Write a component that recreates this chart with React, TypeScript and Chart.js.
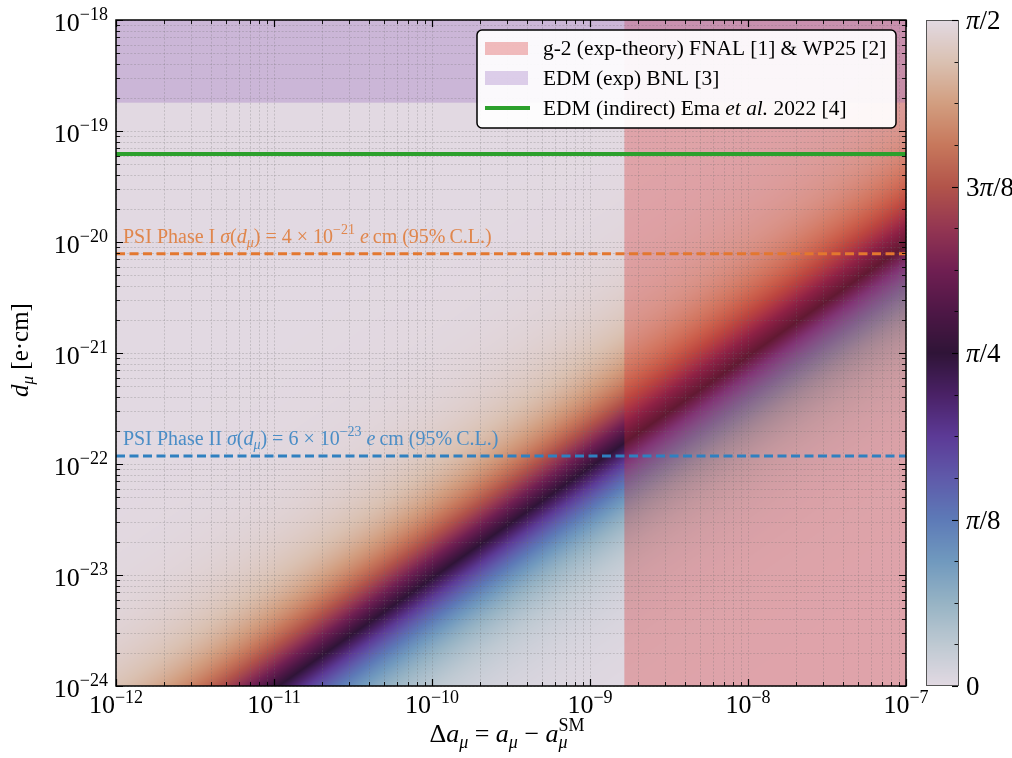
import { useEffect, useRef } from "react";
import { Chart, registerables } from "chart.js";

Chart.register(...registerables);

// ---- axis ranges & ticks ----
const X_MIN = 1e-12;
const X_MAX = 1e-7;
const Y_MIN = 1e-24;
const Y_MAX = 1e-18;
const xTickExponents = [-12, -11, -10, -9, -8, -7];
const yTickExponents = [-24, -23, -22, -21, -20, -19, -18];
const phaseTickValues = [0, Math.PI / 8, Math.PI / 4, (3 * Math.PI) / 8, Math.PI / 2];
const phaseTickLabels = ["0", "π/8", "π/4", "3π/8", "π/2"];

// ---- limits ----
const g2LowerBound = 1.65e-9; // Δa_μ above which the g-2 band is shaded
const bnlEdmLimit = 1.8e-19; // e·cm
const emaEdmLimit = 6.2e-20; // e·cm
const psiPhase1Limit = 7.84e-21; // 95% C.L. of σ = 4e-21
const psiPhase2Limit = 1.18e-22; // 95% C.L. of σ = 6e-23

// d_μ = (e ħ / 2 m_μ c) · Δa_μ · tan φ   (e·cm)
const EDM_PER_DELTA_A = 9.34e-14;

const legendLabels = [
  "g-2 (exp-theory) FNAL [1] & WP25 [2]",
  "EDM (exp) BNL [3]",
  "EDM (indirect) Ema ",
];

// twilight colormap stops (0 → 1)
const twilightStops: number[][] = [
  [226, 217, 226],
  [190, 201, 210],
  [150, 179, 196],
  [112, 153, 190],
  [93, 122, 183],
  [95, 90, 170],
  [92, 58, 150],
  [74, 33, 102],
  [47, 20, 55],
  [78, 23, 70],
  [112, 31, 82],
  [148, 54, 82],
  [178, 84, 74],
  [199, 120, 92],
  [210, 158, 128],
  [218, 193, 178],
  [226, 217, 226],
];

function cmap(t: number): number[] {
  const tt = Math.max(0, Math.min(1, t)) * (twilightStops.length - 1);
  const i = Math.min(twilightStops.length - 2, Math.floor(tt));
  const f = tt - i;
  const a = twilightStops[i];
  const b = twilightStops[i + 1];
  return [a[0] + (b[0] - a[0]) * f, a[1] + (b[1] - a[1]) * f, a[2] + (b[2] - a[2]) * f];
}

const FONT = '"Liberation Serif", "Times New Roman", serif';
const fnt = (size: number, italic?: boolean) => `${italic ? "italic " : ""}${size}px ${FONT}`;

type Seg = { t: string; size: number; it?: boolean; dy?: number; stack?: boolean };

function layoutRich(ctx: CanvasRenderingContext2D, segs: Seg[]) {
  const pos: { x: number; w: number }[] = [];
  let cx = 0;
  let prevStart = 0;
  let prevW = 0;
  for (const s of segs) {
    ctx.font = fnt(s.size, s.it);
    const w = ctx.measureText(s.t).width;
    if (s.stack) {
      pos.push({ x: prevStart, w });
      cx = prevStart + Math.max(prevW, w);
      prevW = Math.max(prevW, w);
    } else {
      pos.push({ x: cx, w });
      prevStart = cx;
      prevW = w;
      cx += w;
    }
  }
  return { pos, total: cx };
}

function drawRich(
  ctx: CanvasRenderingContext2D,
  segs: Seg[],
  x: number,
  y: number,
  align: "left" | "center" | "right",
  color: string
) {
  const { pos, total } = layoutRich(ctx, segs);
  const x0 = align === "left" ? x : align === "center" ? x - total / 2 : x - total;
  ctx.save();
  ctx.fillStyle = color;
  ctx.textAlign = "left";
  ctx.textBaseline = "alphabetic";
  segs.forEach((s, i) => {
    ctx.font = fnt(s.size, s.it);
    ctx.fillText(s.t, x0 + pos[i].x, y + (s.dy || 0));
  });
  ctx.restore();
}

const powSegs = (e: number, base: number, sup: number, dy: number): Seg[] => [
  { t: "10", size: base },
  { t: (e < 0 ? "\u2212" : "") + Math.abs(e), size: sup, dy },
];

const piSegs = (label: string, size: number): Seg[] => {
  const parts = label.split("π");
  const out: Seg[] = [];
  parts.forEach((p, i) => {
    if (p) out.push({ t: p, size });
    if (i < parts.length - 1) out.push({ t: "π", size, it: true });
  });
  return out;
};

function logTickValues(exps: number[]) {
  const major: number[] = exps.map((e) => Math.pow(10, e));
  const minor: number[] = [];
  for (let k = 0; k < exps.length - 1; k++) {
    for (let m = 2; m <= 9; m++) minor.push(m * Math.pow(10, exps[k]));
  }
  return { major, minor };
}

const plotPlugin = {
  id: "edmPlot",
  beforeDatasetsDraw(chart: any) {
    const { ctx, chartArea } = chart;
    const { left, top, right, bottom } = chartArea;
    const xs = chart.scales.x;
    const ys = chart.scales.y;
    const W = Math.round(right - left);
    const H = Math.round(bottom - top);

    // heatmap of the phase φ = atan(d / (k Δa))
    const off = document.createElement("canvas");
    off.width = W;
    off.height = H;
    const octx = off.getContext("2d")!;
    const img = octx.createImageData(W, H);
    const xv = new Float64Array(W);
    for (let i = 0; i < W; i++) xv[i] = xs.getValueForPixel(left + i + 0.5);
    for (let j = 0; j < H; j++) {
      const yv = ys.getValueForPixel(top + j + 0.5);
      for (let i = 0; i < W; i++) {
        const phi = Math.atan2(yv, EDM_PER_DELTA_A * xv[i]);
        const c = cmap(phi / (Math.PI / 2));
        const o = (j * W + i) * 4;
        img.data[o] = c[0];
        img.data[o + 1] = c[1];
        img.data[o + 2] = c[2];
        img.data[o + 3] = 255;
      }
    }
    octx.putImageData(img, 0, 0);
    ctx.save();
    ctx.drawImage(off, left, top);

    // g-2 band
    const gx = xs.getPixelForValue(g2LowerBound);
    ctx.fillStyle = "rgba(214,39,40,0.3)";
    ctx.fillRect(gx, top, right - gx, bottom - top);
    // BNL EDM excluded
    const by = ys.getPixelForValue(bnlEdmLimit);
    ctx.fillStyle = "rgba(148,103,189,0.3)";
    ctx.fillRect(left, top, right - left, by - top);

    // dotted grid (major + minor)
    const xt = logTickValues(xTickExponents);
    const yt = logTickValues(yTickExponents);
    ctx.strokeStyle = "rgba(110,110,110,0.33)";
    ctx.lineWidth = 0.8;
    ctx.setLineDash([2, 1.6]);
    ctx.beginPath();
    [...xt.major, ...xt.minor].forEach((v) => {
      const p = Math.round(xs.getPixelForValue(v)) + 0.5;
      ctx.moveTo(p, top);
      ctx.lineTo(p, bottom);
    });
    [...yt.major, ...yt.minor].forEach((v) => {
      const p = Math.round(ys.getPixelForValue(v)) + 0.5;
      ctx.moveTo(left, p);
      ctx.lineTo(right, p);
    });
    ctx.stroke();
    ctx.restore();
  },
  afterDatasetsDraw(chart: any) {
    const { ctx, chartArea } = chart;
    const { left, top, right, bottom } = chartArea;
    const xs = chart.scales.x;
    const ys = chart.scales.y;
    const ps = chart.scales.phase;

    // PSI annotations
    const psiSegs = (phase: string, sig: string, exp: string): Seg[] => [
      { t: `PSI Phase ${phase} `, size: 20 },
      { t: "σ", size: 20, it: true },
      { t: "(", size: 20 },
      { t: "d", size: 20, it: true },
      { t: "μ", size: 14, it: true, dy: 4 },
      { t: ")", size: 20 },
      { t: ` = ${sig} × 10`, size: 20 },
      { t: exp, size: 14, dy: -9 },
      { t: " ", size: 20 },
      { t: "e", size: 20, it: true },
      { t: "\u2009cm (95%\u2009C.L.)", size: 20 },
    ];
    drawRich(ctx, psiSegs("I", "4", "\u221221"), left + 7, ys.getPixelForValue(psiPhase1Limit) - 11, "left", "#e0864c");
    drawRich(ctx, psiSegs("II", "6", "\u221223"), left + 7, ys.getPixelForValue(psiPhase2Limit) - 11, "left", "#4a8dc6");

    ctx.save();
    // ticks, inward on all sides
    const xt = logTickValues(xTickExponents);
    const yt = logTickValues(yTickExponents);
    ctx.strokeStyle = "#000";
    const tickSet = (vals: number[], len: number, lw: number) => {
      ctx.lineWidth = lw;
      ctx.beginPath();
      vals.forEach((v) => {
        const px = Math.round(xs.getPixelForValue(v)) + 0.5;
        ctx.moveTo(px, bottom);
        ctx.lineTo(px, bottom - len);
        ctx.moveTo(px, top);
        ctx.lineTo(px, top + len);
      });
      ctx.stroke();
    };
    const tickSetY = (vals: number[], len: number, lw: number) => {
      ctx.lineWidth = lw;
      ctx.beginPath();
      vals.forEach((v) => {
        const py = Math.round(ys.getPixelForValue(v)) + 0.5;
        ctx.moveTo(left, py);
        ctx.lineTo(left + len, py);
        ctx.moveTo(right, py);
        ctx.lineTo(right - len, py);
      });
      ctx.stroke();
    };
    tickSet(xt.major, 7, 1.2);
    tickSet(xt.minor, 4, 0.9);
    tickSetY(yt.major, 7, 1.2);
    tickSetY(yt.minor, 4, 0.9);

    // frame
    ctx.lineWidth = 1.5;
    ctx.strokeRect(left, top, right - left, bottom - top);
    ctx.restore();

    // tick labels
    xTickExponents.forEach((e) => {
      const px = xs.getPixelForValue(Math.pow(10, e));
      drawRich(ctx, powSegs(e, 26, 18, -10), px, 713, "center", "#000");
    });
    yTickExponents.forEach((e) => {
      const py = ys.getPixelForValue(Math.pow(10, e));
      drawRich(ctx, powSegs(e, 26, 18, -11), 108, py + 11, "right", "#000");
    });

    // axis titles
    const xTitle: Seg[] = [
      { t: "Δ", size: 26 },
      { t: "a", size: 26, it: true },
      { t: "μ", size: 18, it: true, dy: 6 },
      { t: " = ", size: 26 },
      { t: "a", size: 26, it: true },
      { t: "μ", size: 18, it: true, dy: 6 },
      { t: " \u2212 ", size: 26 },
      { t: "a", size: 26, it: true },
      { t: "SM", size: 18, dy: -11 },
      { t: "μ", size: 18, it: true, dy: 6, stack: true },
    ];
    drawRich(ctx, xTitle, (left + right) / 2 - 4, 742, "center", "#000");

    const yTitle: Seg[] = [
      { t: "d", size: 25, it: true },
      { t: "μ", size: 17, it: true, dy: 5 },
      { t: " [e·cm]", size: 25 },
    ];
    ctx.save();
    ctx.translate(28, (top + bottom) / 2 - 3);
    ctx.rotate(-Math.PI / 2);
    drawRich(ctx, yTitle, 0, 0, "center", "#000");
    ctx.restore();

    // colorbar
    const cbL = 926;
    const cbR = 959;
    ctx.save();
    for (let y = Math.floor(top); y < bottom; y++) {
      const v = ps.getValueForPixel(y + 0.5);
      const c = cmap(v / (Math.PI / 2));
      ctx.fillStyle = `rgb(${Math.round(c[0])},${Math.round(c[1])},${Math.round(c[2])})`;
      ctx.fillRect(cbL, y, cbR - cbL, 1);
    }
    ctx.strokeStyle = "#555";
    ctx.lineWidth = 1;
    ctx.strokeRect(cbL + 0.5, top + 0.5, cbR - cbL - 1, bottom - top - 1);
    ctx.strokeStyle = "#000";
    for (let k = 0; k <= 16; k++) {
      const v = (k * Math.PI) / 32;
      const py = Math.round(ps.getPixelForValue(v)) + 0.5;
      const major = k % 4 === 0;
      ctx.lineWidth = major ? 1.1 : 0.9;
      ctx.beginPath();
      ctx.moveTo(cbR - 1, py);
      ctx.lineTo(cbR - 1 - (major ? 6 : 3.5), py);
      ctx.stroke();
    }
    ctx.restore();
    phaseTickValues.forEach((v, i) => {
      const py = ps.getPixelForValue(v);
      drawRich(ctx, piSegs(phaseTickLabels[i], 27), 966, py + 9, "left", "#000");
    });

    // legend
    ctx.save();
    const lx = 477;
    const ly = 30;
    const lw = 419;
    const lh = 98;
    ctx.beginPath();
    (ctx as any).roundRect(lx, ly, lw, lh, 5);
    ctx.fillStyle = "rgba(255,255,255,0.92)";
    ctx.fill();
    ctx.strokeStyle = "#000";
    ctx.lineWidth = 1.5;
    ctx.stroke();
    ctx.fillStyle = "rgba(214,39,40,0.3)";
    ctx.fillRect(485, 42, 43, 13);
    ctx.fillStyle = "rgba(148,103,189,0.3)";
    ctx.fillRect(485, 71, 43, 14);
    ctx.strokeStyle = "#2ca02c";
    ctx.lineWidth = 4;
    ctx.beginPath();
    ctx.moveTo(485, 108);
    ctx.lineTo(530, 108);
    ctx.stroke();
    ctx.restore();
    drawRich(ctx, [{ t: legendLabels[0], size: 21.4 }], 543, 55, "left", "#000");
    drawRich(ctx, [{ t: legendLabels[1], size: 21.4 }], 543, 85, "left", "#000");
    drawRich(
      ctx,
      [
        { t: legendLabels[2], size: 21.4 },
        { t: "et al.", size: 21.4, it: true },
        { t: " 2022 [4]", size: 21.4 },
      ],
      543,
      115,
      "left",
      "#000"
    );
  },
};

export default function App() {
  const ref = useRef<HTMLCanvasElement | null>(null);
  useEffect(() => {
    document.body.style.margin = "0";
    const canvas = ref.current!;
    const chart = new Chart(canvas, {
      type: "scatter",
      data: {
        datasets: [
          {
            label: "EDM (indirect) Ema et al. 2022 [4]",
            data: [
              { x: X_MIN, y: emaEdmLimit },
              { x: X_MAX, y: emaEdmLimit },
            ],
            showLine: true,
            borderColor: "#2ca02c",
            borderWidth: 4,
            pointRadius: 0,
          },
          {
            label: "PSI Phase I",
            data: [
              { x: X_MIN, y: psiPhase1Limit },
              { x: X_MAX, y: psiPhase1Limit },
            ],
            showLine: true,
            borderColor: "#e3772f",
            borderWidth: 3,
            borderDash: [9, 4.5],
            pointRadius: 0,
          },
          {
            label: "PSI Phase II",
            data: [
              { x: X_MIN, y: psiPhase2Limit },
              { x: X_MAX, y: psiPhase2Limit },
            ],
            showLine: true,
            borderColor: "#2f80c0",
            borderWidth: 3,
            borderDash: [9, 4.5],
            pointRadius: 0,
          },
        ],
      },
      options: {
        responsive: false,
        animation: false,
        events: [],
        layout: { padding: { left: 116, right: 106, top: 20, bottom: 72 } },
        scales: {
          x: { type: "logarithmic", min: X_MIN, max: X_MAX, display: false },
          y: { type: "logarithmic", min: Y_MIN, max: Y_MAX, display: false },
          phase: { type: "linear", position: "right", min: 0, max: Math.PI / 2, display: false },
        },
        plugins: { legend: { display: false }, tooltip: { enabled: false } },
      } as any,
      plugins: [plotPlugin],
    });
    return () => chart.destroy();
  }, []);
  return (
    <div style={{ width: 1012, height: 758, background: "#fff" }}>
      <canvas ref={ref} width={1012} height={758} style={{ display: "block", width: 1012, height: 758 }} />
    </div>
  );
}
